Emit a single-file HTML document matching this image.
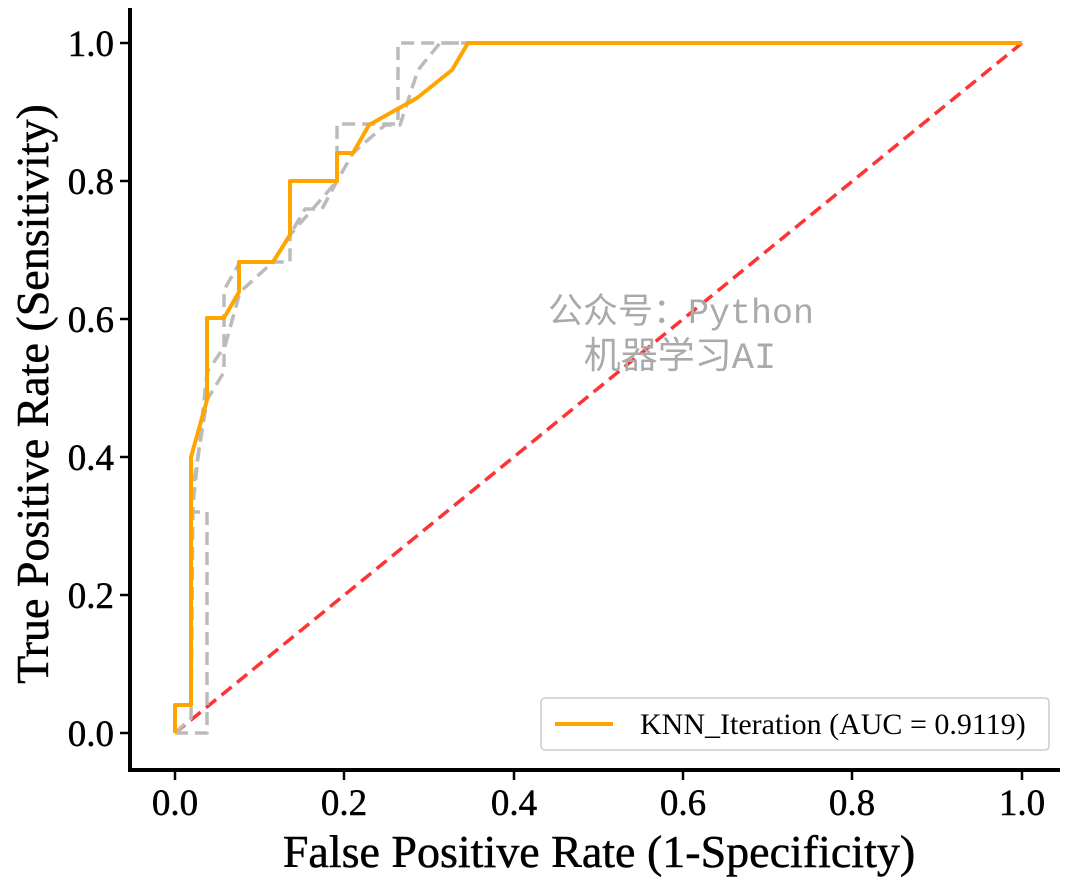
<!DOCTYPE html>
<html><head><meta charset="utf-8"><style>body{margin:0;background:#fff}</style></head><body>
<svg width="1080" height="884" xmlns="http://www.w3.org/2000/svg" font-family="Liberation Serif, serif">
<rect width="1080" height="884" fill="#fff"/>
<g fill="none" stroke-width="3.5" stroke-linejoin="round">
<path d="M175 733 L1022 43" stroke="#ff3333" stroke-dasharray="13,7"/>
<path d="M175 733 L191 718 L193 505 L207 372 L225 346 L240 292 L273 262 L290 235 L305 209 L322 209 L337 181 L353 153 L385 125 L400 125 L418 70 L440 43 L468 43" stroke="#bbb" stroke-dasharray="13,7"/>
<path d="M175 733 L207 733 L207 512 L191 512 L191 500 L207 400 L224 372 L224 290 L240 262 L290 262 L290 235 L337 181 L337 124 L398 124 L398 43 L468 43" stroke="#bbb" stroke-dasharray="13,7"/>
<path d="M175 733 L175 705 L191 705 L191 457 L207 400 L207 318 L224 318 L239 292 L239 262 L273 262 L290 235 L290 181 L337 181 L337 153 L353 153 L369 125 L417 98 L452 70 L468 43 L1022 43" stroke="#ffa500" stroke-width="4"/>
</g>
<g stroke="#000" stroke-width="4"><line x1="130" y1="8" x2="130" y2="772"/><line x1="128" y1="770" x2="1060" y2="770"/></g>
<g stroke="#000" stroke-width="2.5">
<line x1="120" y1="43" x2="130" y2="43"/><line x1="120" y1="181" x2="130" y2="181"/><line x1="120" y1="319" x2="130" y2="319"/><line x1="120" y1="457" x2="130" y2="457"/><line x1="120" y1="595" x2="130" y2="595"/><line x1="120" y1="733" x2="130" y2="733"/>
<line x1="175" y1="770" x2="175" y2="780"/><line x1="344" y1="770" x2="344" y2="780"/><line x1="514" y1="770" x2="514" y2="780"/><line x1="683" y1="770" x2="683" y2="780"/><line x1="852" y1="770" x2="852" y2="780"/><line x1="1022" y1="770" x2="1022" y2="780"/>
</g>
<g font-size="37" text-anchor="end" fill="#000" stroke="#000" stroke-width="0.5">
<text x="114" y="56">1.0</text><text x="114" y="194">0.8</text><text x="114" y="332">0.6</text><text x="114" y="470">0.4</text><text x="114" y="608">0.2</text><text x="114" y="746">0.0</text>
</g>
<g font-size="37" text-anchor="middle" fill="#000" stroke="#000" stroke-width="0.5">
<text x="175" y="815">0.0</text><text x="344" y="815">0.2</text><text x="514" y="815">0.4</text><text x="683" y="815">0.6</text><text x="852" y="815">0.8</text><text x="1022" y="815">1.0</text>
</g>
<text x="599" y="867" font-size="46" text-anchor="middle" stroke="#000" stroke-width="0.5">False Positive Rate (1-Specificity)</text>
<text transform="translate(48,394) rotate(-90)" font-size="46" text-anchor="middle" stroke="#000" stroke-width="0.5">True Positive Rate (Sensitivity)</text>
<rect x="541" y="698" width="508" height="52" rx="4" fill="#fff" stroke="#ccc" stroke-width="1.5"/>
<line x1="555" y1="724" x2="613" y2="724" stroke="#ffa500" stroke-width="4"/>
<text x="640" y="734" font-size="30">KNN_Iteration (AUC = 0.9119)</text>
<g font-family="Liberation Mono, Noto Sans CJK SC, monospace" font-size="35" fill="#aaa" text-anchor="middle">
<text x="681" y="323">公众号：Python</text><text x="680" y="368" font-size="37">机器学习AI</text>
</g>
</svg>
</body></html>
